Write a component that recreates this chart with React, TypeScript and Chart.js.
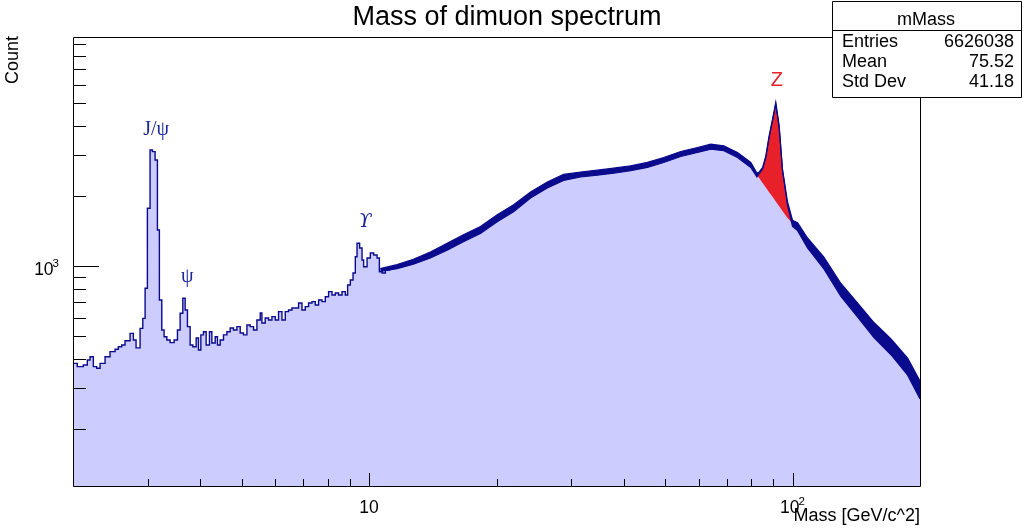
import React, { useEffect, useRef } from 'react';
import { Chart, registerables } from 'chart.js';

Chart.register(...registerables);

// ---- Low-mass region (2 - 11 GeV): bin left edges [GeV] and counts ----
const lowEdges = [
  2.000, 2.047, 2.115, 2.162, 2.194, 2.234, 2.275, 2.317, 2.381, 2.446,
  2.514, 2.559, 2.607, 2.654, 2.728, 2.777, 2.818, 2.880, 2.923, 2.960,
  2.997, 3.041, 3.080, 3.125, 3.165, 3.199, 3.241, 3.282, 3.331, 3.391,
  3.466, 3.529, 3.581, 3.634, 3.680, 3.726, 3.781, 3.837, 3.907, 3.956,
  4.008, 4.065, 4.125, 4.200, 4.255, 4.333, 4.387, 4.452, 4.533, 4.618,
  4.701, 4.786, 4.876, 4.964, 5.054, 5.149, 5.242, 5.337, 5.436, 5.535,
  5.586, 5.688, 5.791, 5.899, 6.006, 6.115, 6.229, 6.342, 6.457, 6.577,
  6.697, 6.818, 6.945, 7.071, 7.199, 7.334, 7.467, 7.602, 7.744, 7.884,
  8.027, 8.177, 8.326, 8.476, 8.635, 8.791, 8.902, 9.034, 9.168, 9.283,
  9.369, 9.503, 9.628, 9.712, 9.894, 10.073, 10.256, 10.447, 10.579, 10.736,
  10.930, 11.232,
];
const lowCounts = [
  382, 370, 376, 395, 408, 370, 364, 382, 408, 429,
  439, 450, 458, 478, 514, 481, 445, 540, 596, 802,
  1769, 3147, 3095, 2851, 1427, 715, 531, 497, 481, 469,
  481, 531, 627, 727, 647, 549, 458, 450, 491, 436,
  506, 522, 458, 522, 467, 497, 458, 481, 506, 522,
  542, 531, 549, 516, 506, 558, 549, 531, 586, 628,
  569, 598, 586, 606, 586, 637, 586, 637, 647, 660,
  660, 694, 647, 669, 694, 703, 680, 715, 703, 738,
  776, 751, 766, 751, 776, 751, 829, 871, 933, 1096,
  1252, 1195, 1061, 993, 1082, 1137, 1115, 1082, 945, 933,
  961, 961,
];

// ---- Dense region (10.6 - 200 GeV): centre of the noisy band and its envelope ----
const highMass = [
  10.63, 11.65, 12.73, 13.96, 15.29, 16.71, 18.33, 20.08, 21.95, 24.07,
  26.36, 28.80, 31.59, 34.60, 37.82, 41.48, 45.43, 49.65, 54.45, 59.65,
  64.12, 68.81, 74.14, 79.71, 82.4, 83.3, 85.0, 86.5, 88.06, 89.9,
  91.3, 93.0, 94.7, 97.3, 100.0, 102.8, 108.5, 118.6, 130.1, 142.5,
  155.7, 170.8, 187.0, 200.0,
];
const highCount = [
  961, 993, 1043, 1115, 1210, 1315, 1427, 1602, 1769, 2017,
  2227, 2400, 2470, 2514, 2564, 2626, 2714, 2851, 3025, 3147,
  3251, 3200, 2995, 2714, 2459, 2500, 2627, 2945, 3589, 4315,
  4993, 3962, 2582, 1858, 1525, 1475, 1255, 1030, 789, 647,
  531, 450, 370, 294,
];
const highUpper = [
  975, 1013, 1069, 1149, 1253, 1361, 1477, 1658, 1831, 2078,
  2294, 2472, 2532, 2577, 2628, 2692, 2782, 2922, 3101, 3226,
  3332, 3280, 3070, 2782, 2508, 2520, 2648, 2968, 3617, 4349,
  5033, 3993, 2602, 1886, 1571, 1534, 1319, 1093, 841, 693,
  572, 487, 402, 321,
];
const highLower = [
  947, 974, 1018, 1082, 1169, 1270, 1379, 1548, 1709, 1958,
  2162, 2330, 2410, 2453, 2501, 2562, 2648, 2781, 2951, 3070,
  3172, 3122, 2922, 2648, 2411, 2480, 2606, 2922, 3561, 4281,
  4954, 3931, 2562, 1831, 1480, 1418, 1195, 971, 740, 604,
  493, 416, 340, 269,
];

// ---- Z peak and the background under it ----
const zMass = [82.4, 83.3, 85.0, 86.5, 88.06, 89.9, 91.3, 93.0, 94.7, 97.3, 100.0];
const zPeak = [2459, 2500, 2627, 2945, 3589, 4315, 4993, 3962, 2582, 1858, 1525];
const zBkg = [2459, 2390, 2271, 2170, 2073, 1970, 1890, 1804, 1722, 1607, 1525];

// ---- Axes ----
const xRange = [2, 200];
const yRange = [113.7, 9610];
const xMajorTicks = [10, 100];
const xMinorTicks = [3, 4, 5, 6, 7, 8, 9, 20, 30, 40, 50, 60, 70, 80, 90];
const yMajorTicks = [1000];
const yMinorTicks = [200, 300, 400, 500, 600, 700, 800, 900, 2000, 3000, 4000, 5000, 6000, 7000, 8000, 9000];
const xTickBase = ['10', '10'];
const xTickExp = ['', '2'];
const yTickBase = ['10'];
const yTickExp = ['3'];

// ---- Texts ----
const chartTitle = 'Mass of dimuon spectrum';
const xTitle = 'Mass [GeV/c^2]';
const yTitle = 'Count';
const statsName = 'mMass';
const statsLabels = ['Entries', 'Mean', 'Std Dev'];
const statsValues = ['6626038', '75.52', '41.18'];
const peakText = ['J/ψ', 'ψ', 'ϒ', 'Z'];
const peakMass = [3.142, 3.72, 9.8, 91.8];
const peakCount = [3649, 854, 1470, 5923];

const FILL = '#ccccff';
const LINE = '#0a0a8c';
const RED = '#e8202a';
const LABEL_BLUE = '#1a2799';
const SANS = '"Liberation Sans", Arial, Helvetica, sans-serif';
const SERIF = '"Liberation Serif", "DejaVu Serif", serif';

const pts = (xs: number[], ys: number[]) => xs.map((x, i) => ({ x, y: ys[i] }));

function drawPow(ctx: CanvasRenderingContext2D, base: string, exp: string, x: number, y: number, align: 'center' | 'right', size: number, supSize: number, supRise: number) {
  ctx.font = `${size}px ${SANS}`;
  const w1 = ctx.measureText(base).width;
  ctx.font = `${supSize}px ${SANS}`;
  const w2 = exp ? ctx.measureText(exp).width - 1 : 0;
  const total = w1 + w2;
  const start = align === 'center' ? x - total / 2 : x - total;
  ctx.textAlign = 'left';
  ctx.font = `${size}px ${SANS}`;
  ctx.fillText(base, start, y);
  if (exp) {
    ctx.font = `${supSize}px ${SANS}`;
    ctx.fillText(exp, start + w1 - 1, y - supRise);
  }
}

const rootStyle = {
  id: 'rootStyle',
  afterDraw(chart: any) {
    const ctx: CanvasRenderingContext2D = chart.ctx;
    const xs = chart.scales.x;
    const ys = chart.scales.y;
    const L = Math.round(chart.chartArea.left);
    const R = Math.round(chart.chartArea.right);
    const T = Math.round(chart.chartArea.top);
    const B = Math.round(chart.chartArea.bottom);
    ctx.save();
    ctx.strokeStyle = '#000';
    ctx.fillStyle = '#000';
    ctx.lineWidth = 1;
    // frame
    ctx.beginPath();
    ctx.rect(L + 0.5, T + 0.5, R - L, B - T);
    ctx.stroke();
    // ticks
    ctx.beginPath();
    xMajorTicks.forEach((v) => {
      const p = Math.round(xs.getPixelForValue(v)) + 0.5;
      ctx.moveTo(p, B); ctx.lineTo(p, B - 13);
    });
    xMinorTicks.forEach((v) => {
      const p = Math.round(xs.getPixelForValue(v)) + 0.5;
      ctx.moveTo(p, B); ctx.lineTo(p, B - 7);
    });
    yMajorTicks.forEach((v) => {
      const p = Math.round(ys.getPixelForValue(v)) + 0.5;
      ctx.moveTo(L, p); ctx.lineTo(L + 26, p);
    });
    yMinorTicks.forEach((v) => {
      const p = Math.round(ys.getPixelForValue(v)) + 0.5;
      ctx.moveTo(L, p); ctx.lineTo(L + 13, p);
    });
    ctx.stroke();
    // tick labels
    ctx.textBaseline = 'alphabetic';
    xMajorTicks.forEach((v, i) => {
      drawPow(ctx, xTickBase[i], xTickExp[i], xs.getPixelForValue(v), B + 27, 'center', 17.5, 11.5, 8);
    });
    yMajorTicks.forEach((v, i) => {
      drawPow(ctx, yTickBase[i], yTickExp[i], L - 14, ys.getPixelForValue(v) + 9.5, 'right', 17.5, 11.5, 8);
    });
    // axis titles
    ctx.font = `18px ${SANS}`;
    ctx.textAlign = 'right';
    ctx.fillText(xTitle, R, 521);
    ctx.save();
    ctx.translate(18, 36);
    ctx.rotate(-Math.PI / 2);
    ctx.textAlign = 'right';
    ctx.fillText(yTitle, 0, 0);
    ctx.restore();
    // title
    ctx.font = `27px ${SANS}`;
    ctx.textAlign = 'center';
    ctx.fillText(chartTitle, 507, 25);
    // peak labels
    peakText.forEach((t, i) => {
      const px = xs.getPixelForValue(peakMass[i]);
      const py = ys.getPixelForValue(peakCount[i]);
      if (t === 'Z') {
        ctx.font = `20px ${SANS}`;
        ctx.fillStyle = RED;
      } else if (t === 'ϒ') {
        ctx.font = `italic 19px "DejaVu Serif", ${SERIF}`;
        ctx.fillStyle = LABEL_BLUE;
      } else {
        ctx.font = `20px ${SERIF}`;
        ctx.fillStyle = LABEL_BLUE;
      }
      ctx.textAlign = 'center';
      ctx.fillText(t, px, py);
    });
    // stats box
    const bx = 832, by = 1, bw = 189, bh = 96;
    ctx.fillStyle = '#fff';
    ctx.fillRect(bx, by, bw, bh);
    ctx.strokeStyle = '#000';
    ctx.beginPath();
    ctx.rect(bx + 0.5, by + 0.5, bw, bh);
    ctx.moveTo(bx, by + 29.5);
    ctx.lineTo(bx + bw, by + 29.5);
    ctx.stroke();
    ctx.fillStyle = '#000';
    ctx.font = `18px ${SANS}`;
    ctx.textAlign = 'center';
    ctx.fillText(statsName, bx + 94, 25);
    statsLabels.forEach((lab, i) => {
      const yb = 47 + i * 20;
      ctx.textAlign = 'left';
      ctx.fillText(lab, bx + 10, yb);
      ctx.textAlign = 'right';
      ctx.fillText(statsValues[i], bx + bw - 7, yb);
    });
    ctx.restore();
  },
};

export default function App() {
  const canvasRef = useRef<HTMLCanvasElement | null>(null);
  useEffect(() => {
    if (!canvasRef.current) return;
    const base = { pointRadius: 0, pointHoverRadius: 0, tension: 0 };
    const chart = new Chart(canvasRef.current, {
      type: 'line',
      data: {
        datasets: [
          {
            ...base,
            label: 'low',
            data: pts(lowEdges, lowCounts),
            stepped: 'before',
            fill: 'start',
            backgroundColor: FILL,
            borderColor: LINE,
            borderWidth: 1.4,
            borderJoinStyle: 'miter',
            order: 5,
          },
          {
            ...base,
            label: 'highFill',
            data: pts(highMass, highCount),
            fill: 'start',
            backgroundColor: FILL,
            borderColor: FILL,
            borderWidth: 0,
            order: 6,
          },
          {
            ...base,
            label: 'zPeak',
            data: pts(zMass, zPeak),
            fill: '+1',
            backgroundColor: RED,
            borderColor: RED,
            borderWidth: 0,
            order: 3,
          },
          {
            ...base,
            label: 'zBkg',
            data: pts(zMass, zBkg),
            fill: false,
            borderColor: 'rgba(0,0,0,0)',
            borderWidth: 0,
            order: 4,
          },
          {
            ...base,
            label: 'bandUpper',
            data: pts(highMass, highUpper),
            fill: '+1',
            backgroundColor: LINE,
            borderColor: LINE,
            borderWidth: 1.2,
            order: 1,
          },
          {
            ...base,
            label: 'bandLower',
            data: pts(highMass, highLower),
            fill: false,
            borderColor: LINE,
            borderWidth: 1.2,
            order: 2,
          },
        ],
      },
      options: {
        responsive: false,
        animation: false,
        events: [],
        layout: { padding: { left: 0, right: 104, top: 37, bottom: 0 } },
        plugins: {
          legend: { display: false },
          tooltip: { enabled: false },
          title: { display: false },
        },
        scales: {
          x: {
            type: 'logarithmic',
            min: xRange[0],
            max: xRange[1],
            grid: { display: false },
            border: { display: false },
            ticks: { display: false },
            afterFit: (s: any) => { s.height = 44; },
          },
          y: {
            type: 'logarithmic',
            min: yRange[0],
            max: yRange[1],
            grid: { display: false },
            border: { display: false },
            ticks: { display: false },
            afterFit: (s: any) => { s.width = 73; },
          },
        },
      },
      plugins: [rootStyle],
    } as any);
    return () => chart.destroy();
  }, []);
  return (
    <div style={{ position: 'absolute', left: 0, top: 0, width: 1024, height: 530, background: '#fff' }}>
      <canvas ref={canvasRef} width={1024} height={530} style={{ display: 'block' }} />
    </div>
  );
}
